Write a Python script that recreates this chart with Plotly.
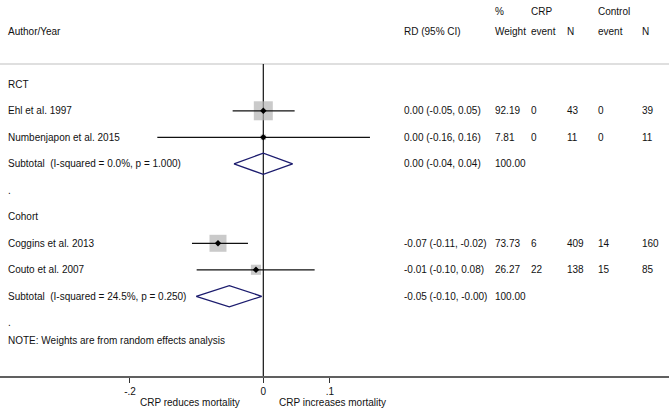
import plotly.graph_objects as go

# --- data ---
groups = ["RCT", "Cohort"]
studies = [
    ["Ehl et al. 1997", "Numbenjapon et al. 2015"],
    ["Coggins et al. 2013", "Couto et al. 2007"],
]
est = [[0.0, 0.0], [-0.068, -0.011]]
lo = [[-0.046, -0.159], [-0.107, -0.100]]
hi = [[0.047, 0.160], [-0.023, 0.077]]
weight = [[92.19, 7.81], [73.73, 26.27]]
crp_event = [[0, 0], [6, 22]]
crp_n = [[43, 11], [409, 138]]
ctrl_event = [[0, 0], [14, 15]]
ctrl_n = [[39, 11], [160, 85]]

sub_labels = [
    "Subtotal\u00a0 (I-squared = 0.0%, p = 1.000)",
    "Subtotal\u00a0 (I-squared = 24.5%, p = 0.250)",
]
sub_est = [0.0, -0.051]
sub_lo = [-0.044, -0.1007]
sub_hi = [0.044, -0.0024]

tick_vals = [-0.2, 0, 0.1]
tick_text = ["-.2", "0", ".1"]

FONT = "Liberation Sans, Arial, sans-serif"
TXT = "#111111"

# column x positions (paper fraction)
COL_LABEL = 6 / 669
COL_RD = 402 / 669
COL_W = 493 / 669
COL_CE = 529 / 669
COL_CN = 565 / 669
COL_KE = 596 / 669
COL_KN = 640 / 669


def fmt(v):
    return f"{v:.2f}"


def rd_text(e, l, h):
    return f"{fmt(e)} ({fmt(l)}, {fmt(h)})"


annotations = []


def txt(x, y, s):
    annotations.append(dict(
        x=x, y=y, xref="paper", yref="y", text=s, showarrow=False,
        xanchor="left", yanchor="middle",
        font=dict(family=FONT, size=10, color=TXT),
    ))


fig = go.Figure()

# header
txt(COL_LABEL, -2.01, "Author/Year")
txt(COL_RD, -2.01, "RD (95% CI)")
txt(COL_W, -2.73, "%")
txt(COL_W, -2.01, "Weight")
txt(COL_CE, -2.73, "CRP")
txt(COL_CE, -2.01, "event")
txt(COL_CN, -2.01, "N")
txt(COL_KE, -2.73, "Control")
txt(COL_KE, -2.01, "event")
txt(COL_KN, -2.01, "N")

ci_x, ci_y = [], []
box_x, box_y, box_s = [], [], []
pt_x, pt_y = [], []
dia_x, dia_y = [], []

row = 0
for g, name in enumerate(groups):
    txt(COL_LABEL, row, name)
    row += 1
    for i, s in enumerate(studies[g]):
        txt(COL_LABEL, row, s)
        txt(COL_RD, row, rd_text(est[g][i], lo[g][i], hi[g][i]))
        txt(COL_W, row, f"{weight[g][i]:.2f}")
        txt(COL_CE, row, str(crp_event[g][i]))
        txt(COL_CN, row, str(crp_n[g][i]))
        txt(COL_KE, row, str(ctrl_event[g][i]))
        txt(COL_KN, row, str(ctrl_n[g][i]))
        ci_x += [lo[g][i], hi[g][i], None]
        ci_y += [row, row, None]
        box_x.append(est[g][i])
        box_y.append(row)
        box_s.append(19 * (weight[g][i] / 92.19) ** 0.5)
        pt_x.append(est[g][i])
        pt_y.append(row)
        row += 1
    # subtotal
    txt(COL_LABEL, row, sub_labels[g])
    txt(COL_RD, row, rd_text(sub_est[g], sub_lo[g], sub_hi[g]))
    txt(COL_W, row, "100.00")
    h = 0.4
    dia_x += [sub_lo[g], sub_est[g], sub_hi[g], sub_est[g], sub_lo[g], None]
    dia_y += [row, row - h, row, row + h, row, None]
    row += 1
    # stata's spacer dot
    txt(COL_LABEL, row if g == 0 else row - 0.02, ".")
    row += 1

txt(COL_LABEL, 9.66, "NOTE: Weights are from random effects analysis")

fig.add_trace(go.Scatter(
    x=box_x, y=box_y, mode="markers",
    marker=dict(symbol="square", size=box_s, color="#b4b4b4", line=dict(width=0)),
    hoverinfo="skip", showlegend=False,
))
fig.add_trace(go.Scatter(
    x=ci_x, y=ci_y, mode="lines",
    line=dict(color="#111111", width=1.3),
    hoverinfo="skip", showlegend=False,
))
fig.add_trace(go.Scatter(
    x=pt_x, y=pt_y, mode="markers",
    marker=dict(symbol="diamond", size=5, color="#000000"),
    hoverinfo="skip", showlegend=False,
))
fig.add_trace(go.Scatter(
    x=dia_x, y=dia_y, mode="lines",
    line=dict(color="#1c1c6e", width=1.3),
    hoverinfo="skip", showlegend=False,
))

Y_TOP, Y_BOT = -3.181, 11.008

# header separator and null line
fig.add_shape(type="line", xref="paper", yref="y", x0=0, x1=1, y0=-0.766, y1=-0.766,
              line=dict(color="#d4d4d4", width=1.5), layer="below")
fig.add_shape(type="line", xref="x", yref="y", x0=0, x1=0, y0=-0.766, y1=Y_BOT,
              line=dict(color="#111111", width=1.2), layer="below")

# axis titles
annotations.append(dict(x=-0.032, y=-0.0718, xref="x", yref="paper", text="CRP reduces mortality",
                        showarrow=False, xanchor="right", yanchor="middle",
                        font=dict(family=FONT, size=10, color=TXT)))
annotations.append(dict(x=0.020, y=-0.0718, xref="x", yref="paper", text="CRP increases mortality",
                        showarrow=False, xanchor="left", yanchor="middle",
                        font=dict(family=FONT, size=10, color=TXT)))

fig.update_layout(
    width=669, height=409,
    margin=dict(l=0, r=0, t=0, b=33),
    paper_bgcolor="white", plot_bgcolor="white",
    annotations=annotations,
    xaxis=dict(
        range=[-0.395, 0.6086], showgrid=False, zeroline=False,
        showline=True, linecolor="#606060", linewidth=1.5,
        ticks="outside", ticklen=5, tickcolor="#333333", tickwidth=1,
        tickvals=tick_vals, ticktext=tick_text,
        tickfont=dict(family=FONT, size=10, color=TXT),
        fixedrange=True,
    ),
    yaxis=dict(range=[Y_BOT, Y_TOP], visible=False, fixedrange=True),
)

# page has a default 8px body margin; drop it so the chart sits at the corner
fig.write_html(
    "out.html",
    config={"displayModeBar": False},
    post_script="document.body.style.margin='0';",
)
